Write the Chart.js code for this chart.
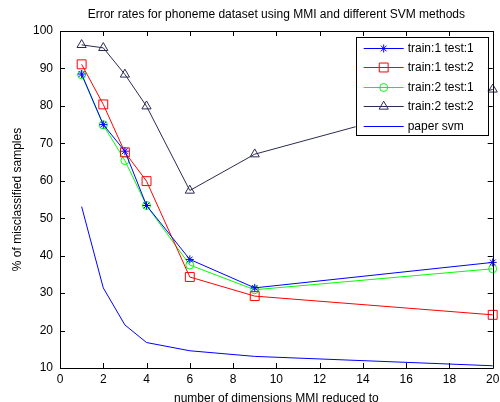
<!DOCTYPE html>
<html>
<head>
<meta charset="utf-8">
<script src="https://cdn.jsdelivr.net/npm/chart.js@4/dist/chart.umd.min.js"></script>
<style>
  body { margin: 0; background: #fff; }
  #wrap { width: 500px; height: 402px; position: relative; }
</style>
</head>
<body>
<div id="wrap"><canvas id="myChart"></canvas></div>
<script>
const dims = [1, 2, 3, 4, 6, 9, 20];
const train1test1 = [88.5, 75, 67.9, 53.4, 39, 31.4, 38.2];
const train1test2 = [91.1, 80.4, 67.6, 59.9, 34.3, 29.2, 24.2];
const train2test1 = [88.3, 74.9, 65.4, 53.4, 37.5, 30.9, 36.5];
const train2test2 = [96.3, 95.5, 88.4, 79.9, 57.4, 67.1, 84.4];
const paperSvm = [53.1, 31.4, 21.5, 16.8, 14.6, 13.1, 10.6];

const xTicks = [0, 2, 4, 6, 8, 10, 12, 14, 16, 18, 20];
const yTicks = [10, 20, 30, 40, 50, 60, 70, 80, 90, 100];

const titleText = 'Error rates for phoneme dataset using MMI and different SVM methods';
const FONT = '"Liberation Sans", Arial, sans-serif';

Chart.defaults.font.family = FONT;
Chart.defaults.font.size = 12;
Chart.defaults.color = '#000';

function pts(ys) {
  return dims.map((x, i) => ({ x: x, y: ys[i] }));
}

function series(label, ys, color, style, radius) {
  return {
    label: label,
    data: pts(ys),
    borderColor: color,
    backgroundColor: color,
    borderWidth: 1,
    pointStyle: style,
    pointRadius: radius,
    pointHoverRadius: radius,
    pointBorderColor: color,
    pointBackgroundColor: 'rgba(0,0,0,0)',
    pointBorderWidth: 1,
    tension: 0,
    clip: false
  };
}

// box, inward ticks, title
const matlabFrame = {
  id: 'matlabFrame',
  afterDatasetsDraw(chart) {
    const { ctx, chartArea: a, scales } = chart;
    ctx.save();
    ctx.strokeStyle = '#000';
    ctx.lineWidth = 1;
    ctx.beginPath();
    ctx.rect(Math.round(a.left) + 0.5, Math.round(a.top) + 0.5,
      Math.round(a.right - a.left), Math.round(a.bottom - a.top));
    ctx.stroke();
    const tl = 5;
    ctx.beginPath();
    xTicks.forEach(v => {
      const x = Math.round(scales.x.getPixelForValue(v)) + 0.5;
      ctx.moveTo(x, a.bottom); ctx.lineTo(x, a.bottom - tl);
      ctx.moveTo(x, a.top); ctx.lineTo(x, a.top + tl);
    });
    yTicks.forEach(v => {
      const y = Math.round(scales.y.getPixelForValue(v)) + 0.5;
      ctx.moveTo(a.left, y); ctx.lineTo(a.left + tl, y);
      ctx.moveTo(a.right, y); ctx.lineTo(a.right - tl, y);
    });
    ctx.stroke();
    ctx.restore();
  },
  afterDraw(chart) {
    const { ctx, chartArea: a } = chart;
    ctx.save();
    // title centred over the axes
    ctx.fillStyle = '#000';
    ctx.font = '12px ' + FONT;
    ctx.textAlign = 'center';
    ctx.textBaseline = 'middle';
    ctx.fillText(titleText, (a.left + a.right) / 2, 15);

    // legend box
    const lx = a.right - 137, ly = a.top + 6, lw = 132, lh = 98;
    ctx.fillStyle = '#fff';
    ctx.fillRect(lx, ly, lw, lh);
    ctx.strokeStyle = '#000';
    ctx.lineWidth = 1;
    ctx.strokeRect(Math.round(lx) + 0.5, Math.round(ly) + 0.5, lw, lh);
    chart.data.datasets.forEach((ds, i) => {
      const y = Math.round(ly + 11 + i * 19.4) + 0.5;
      ctx.strokeStyle = ds.borderColor;
      ctx.beginPath();
      ctx.moveTo(lx + 8, y); ctx.lineTo(lx + 48, y);
      ctx.stroke();
      if (ds.pointRadius > 0) {
        ctx.fillStyle = 'rgba(0,0,0,0)';
        ctx.strokeStyle = ds.pointBorderColor;
        ctx.lineWidth = 1;
        Chart.helpers.drawPoint(ctx, {
          pointStyle: ds.pointStyle, radius: ds.pointRadius, rotation: 0, borderWidth: 1
        }, lx + 28, y);
      }
      ctx.fillStyle = '#000';
      ctx.textAlign = 'left';
      ctx.textBaseline = 'middle';
      ctx.fillText(ds.label, lx + 52, y);
    });
    ctx.restore();
  }
};

new Chart(document.getElementById('myChart'), {
  type: 'line',
  data: {
    datasets: [
      series('train:1 test:1', train1test1, '#0000ff', 'star', 4),
      series('train:1 test:2', train1test2, '#ff0000', 'rect', 6.3),
      series('train:2 test:1', train2test1, '#00ff00', 'circle', 4),
      series('train:2 test:2', train2test2, '#2b2b52', 'triangle', 5.3),
      series('paper svm', paperSvm, '#0000ff', 'circle', 0)
    ]
  },
  options: {
    responsive: true,
    maintainAspectRatio: false,
    animation: false,
    layout: { padding: { top: 31, right: 0, left: 0, bottom: 0 } },
    plugins: {
      legend: { display: false },
      title: { display: false },
      tooltip: { enabled: false }
    },
    scales: {
      x: {
        type: 'linear',
        min: 0,
        max: 20,
        afterBuildTicks: s => { s.ticks = xTicks.map(v => ({ value: v })); },
        grid: { display: false, drawTicks: false },
        border: { display: false },
        ticks: { padding: 4, autoSkip: false, maxRotation: 0 },
        title: { display: true, text: 'number of dimensions MMI reduced to', padding: { top: 2, bottom: -4 } },
        afterFit: s => { s.height = 34; s.paddingRight = 6; s.paddingLeft = 0; }
      },
      y: {
        type: 'linear',
        min: 10,
        max: 100,
        afterBuildTicks: s => { s.ticks = yTicks.map(v => ({ value: v })); },
        grid: { display: false, drawTicks: false },
        border: { display: false },
        ticks: { padding: 7 },
        title: { display: true, text: '% of misclassified samples', padding: { top: 10, bottom: 0 } },
        afterFit: s => { s.width = 60; }
      }
    }
  },
  plugins: [matlabFrame]
});
</script>
</body>
</html>
